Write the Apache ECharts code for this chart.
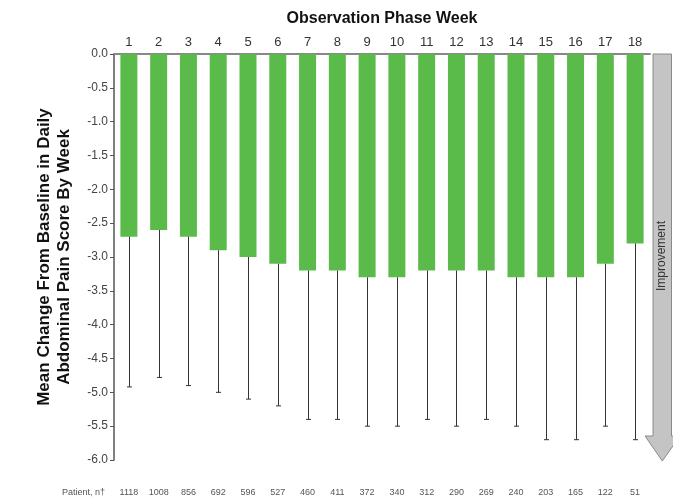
<!DOCTYPE html>
<html>
<head>
<meta charset="utf-8">
<script src="https://cdn.jsdelivr.net/npm/echarts@6/dist/echarts.min.js"></script>
<style>
  html, body { margin: 0; padding: 0; background: #fff; }
  #chart { width: 673px; height: 502px; }
</style>
</head>
<body>
<div id="chart"></div>
<script>
var weeks = ["1", "2", "3", "4", "5", "6", "7", "8", "9", "10", "11", "12", "13", "14", "15", "16", "17", "18"];
var meanChange = [-2.7, -2.6, -2.7, -2.9, -3.0, -3.1, -3.2, -3.2, -3.3, -3.3, -3.2, -3.2, -3.2, -3.3, -3.3, -3.3, -3.1, -2.8];
var errorLow = [-4.92, -4.78, -4.9, -5.0, -5.1, -5.2, -5.4, -5.4, -5.5, -5.5, -5.4, -5.5, -5.4, -5.5, -5.7, -5.7, -5.5, -5.7];
var patients = ["1118", "1008", "856", "692", "596", "527", "460", "411", "372", "340", "312", "290", "269", "240", "203", "165", "122", "51"];

var font = "Liberation Sans, Arial, sans-serif";

var errData = weeks.map(function (w, i) {
    return [i, meanChange[i], errorLow[i]];
});

var chart = echarts.init(document.getElementById("chart"));
chart.setOption({
    animation: false,
    grid: { left: 114, right: 23, top: 54, bottom: 42 },
    xAxis: [
        {
            type: "category",
            data: weeks,
            position: "top",
            name: "Observation Phase Week",
            nameLocation: "middle",
            nameGap: 27,
            nameTextStyle: { fontFamily: font, fontSize: 16, fontWeight: "bold", color: "#111" },
            axisLine: { onZero: false, lineStyle: { color: "#888", width: 2 } },
            axisTick: { show: false },
            axisLabel: { fontFamily: font, fontSize: 13, color: "#333", margin: 5 }
        },
        {
            type: "category",
            data: patients,
            position: "bottom",
            axisLine: { show: false, onZero: false },
            axisTick: { show: false },
            axisLabel: { fontFamily: font, fontSize: 9, color: "#555", margin: 28 }
        }
    ],
    yAxis: {
        type: "value",
        min: -6,
        max: 0,
        interval: 0.5,
        name: "Mean Change From Baseline in Daily\nAbdominal Pain Score By Week",
        nameLocation: "middle",
        nameGap: 40,
        nameTextStyle: { fontFamily: font, fontSize: 17, fontWeight: "bold", color: "#111", lineHeight: 20 },
        axisLine: { show: true, lineStyle: { color: "#555", width: 1.5 } },
        axisTick: { show: true, length: 4, lineStyle: { color: "#555" } },
        splitLine: { show: false },
        axisLabel: {
            fontFamily: font, fontSize: 12, color: "#444", margin: 6,
            formatter: function (v) { return v.toFixed(1); }
        }
    },
    series: [
        {
            type: "bar",
            data: meanChange,
            barWidth: 17,
            itemStyle: { color: "#5bbb4a" },
            z: 2
        },
        {
            type: "custom",
            data: errData,
            z: 3,
            renderItem: function (params, api) {
                var top = api.coord([api.value(0), api.value(1)]);
                var bot = api.coord([api.value(0), api.value(2)]);
                var x = Math.round(top[0]) + 0.5;
                return {
                    type: "group",
                    children: [
                        { type: "line", shape: { x1: x, y1: top[1], x2: x, y2: bot[1] }, style: { stroke: "#333", lineWidth: 1 } },
                        { type: "line", shape: { x1: x - 2.5, y1: bot[1], x2: x + 2.5, y2: bot[1] }, style: { stroke: "#333", lineWidth: 1 } }
                    ]
                };
            }
        }
    ],
    graphic: [
        {
            type: "polygon",
            shape: { points: [[653, 54], [671.5, 54], [671.5, 436], [680, 436], [662.3, 461], [645, 436], [653, 436]] },
            style: { fill: "#c4c4c4", stroke: "#8a8a8a", lineWidth: 1 }
        },
        {
            type: "text",
            x: 662, y: 256, rotation: Math.PI / 2,
            style: { text: "Improvement", fontFamily: font, fontSize: 12, fill: "#333", align: "center", verticalAlign: "middle" }
        },
        {
            type: "text",
            left: 62, top: 488,
            style: { text: "Patient, n\u2020", fontFamily: font, fontSize: 9, fill: "#555" }
        }
    ]
});
</script>
</body>
</html>
